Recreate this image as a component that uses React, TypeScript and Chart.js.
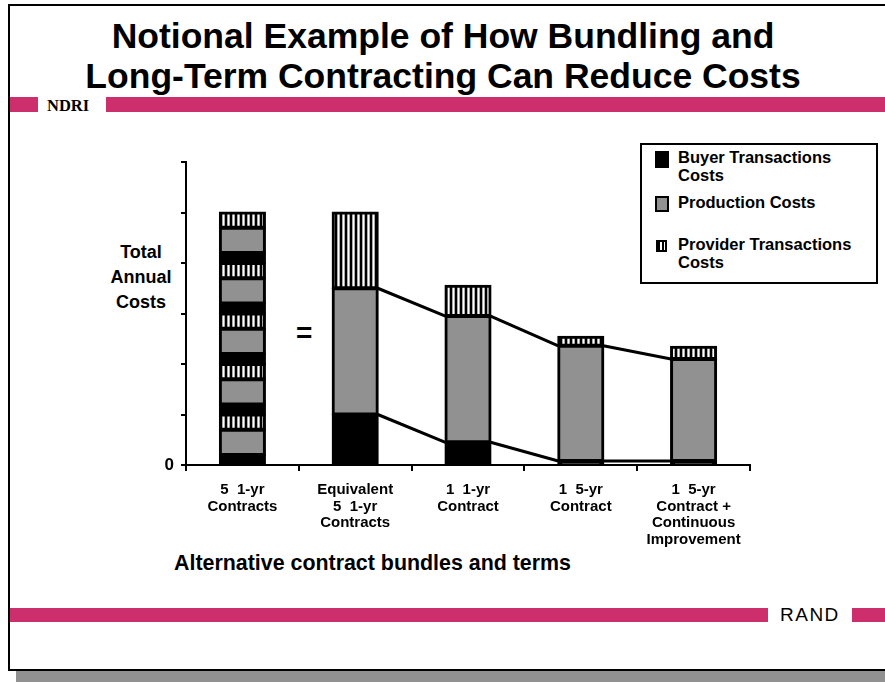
import React, { useEffect, useRef } from 'react';
import { Chart, registerables } from 'chart.js';

Chart.register(...registerables);

// Contract alternatives along the x axis (multi-line tick labels)
const categories: string[][] = [
  ['5  1-yr', 'Contracts'],
  ['Equivalent', '5  1-yr', 'Contracts'],
  ['1  1-yr', 'Contract'],
  ['1  5-yr', 'Contract'],
  ['1  5-yr', 'Contract +', 'Continuous', 'Improvement'],
];

// Cost components per bar (first bar: one 1-yr contract, repeated)
const buyerCosts = [0.2, 1.0, 0.45, 0.08, 0.08];
const productionCosts = [0.5, 2.5, 2.5, 2.28, 2.02];
const providerCosts = [0.3, 1.5, 0.6, 0.18, 0.24];
const contractsInFirstBar = 5;

const seriesNames = ['Buyer Transactions Costs', 'Production Costs', 'Provider Transactions Costs'];
const legendLines: string[][] = [
  ['Buyer Transactions', 'Costs'],
  ['Production Costs'],
  ['Provider Transactions', 'Costs'],
];

const yMin = 0;
const yMax = 6;
const yStep = 1;

const FONT = '"Liberation Sans", Arial, Helvetica, sans-serif';
const PINK = '#CC2F6B';
const GRAY = '#919191';

// Lines joining matching cost levels of neighbouring bars (from the 2nd bar on)
const connectorPlugin = {
  id: 'costConnectors',
  afterDatasetsDraw(chart: any) {
    const ctx = chart.ctx;
    const buyerMeta = chart.getDatasetMeta(0);
    const prodMeta = chart.getDatasetMeta(1);
    ctx.save();
    ctx.strokeStyle = '#000';
    ctx.lineWidth = 3;
    ctx.lineCap = 'butt';
    for (const meta of [buyerMeta, prodMeta]) {
      for (let i = 1; i < categories.length - 1; i++) {
        const a = meta.data[i].getProps(['x', 'y', 'width'], true);
        const b = meta.data[i + 1].getProps(['x', 'y', 'width'], true);
        ctx.beginPath();
        ctx.moveTo(a.x + a.width / 2, a.y);
        ctx.lineTo(b.x - b.width / 2, b.y);
        ctx.stroke();
      }
    }
    ctx.restore();
  },
};

function makeStripes(): CanvasPattern | string {
  const tile = document.createElement('canvas');
  tile.width = 5;
  tile.height = 4;
  const t = tile.getContext('2d');
  if (!t) return '#fff';
  t.fillStyle = '#fff';
  t.fillRect(0, 0, 5, 4);
  t.fillStyle = '#000';
  t.fillRect(0, 0, 2, 4);
  t.fillStyle = '#aaa';
  t.fillRect(2, 0, 1, 4);
  t.fillRect(4, 0, 1, 4);
  return t.createPattern(tile, 'repeat') || '#fff';
}

export default function App() {
  const canvasRef = useRef<HTMLCanvasElement | null>(null);

  useEffect(() => {
    const canvas = canvasRef.current;
    if (!canvas) return;
    const stripes = makeStripes();
    const fills = ['#000', GRAY, stripes];
    const series = [buyerCosts, productionCosts, providerCosts];

    const datasets: any[] = [];
    for (let k = 0; k < contractsInFirstBar; k++) {
      series.forEach((values, s) => {
        datasets.push({
          label: seriesNames[s],
          data: k === 0 ? values : values.map((v, i) => (i === 0 ? v : null)),
          backgroundColor: fills[s],
          borderColor: '#000',
          borderWidth: 3,
          borderSkipped: false,
          inflateAmount: 1,
          categoryPercentage: 1,
          barPercentage: 0.40,
        });
      });
    }

    const chart = new Chart(canvas, {
      type: 'bar',
      data: { labels: categories, datasets },
      options: {
        animation: false,
        responsive: false,
        devicePixelRatio: 1,
        events: [],
        layout: { padding: { left: 100, right: 135, top: 162, bottom: 117 } },
        plugins: { legend: { display: false }, tooltip: { enabled: false }, title: { display: false } },
        scales: {
          x: {
            stacked: true,
            grid: { drawOnChartArea: false, drawTicks: true, tickLength: 6, color: '#000', lineWidth: 2 },
            border: { display: true, color: '#000', width: 2 },
            ticks: {
              color: '#000',
              padding: 11,
              maxRotation: 0,
              autoSkip: false,
              font: { family: FONT, weight: 'bold', size: 15, lineHeight: 1.1 },
            },
            afterFit: (scale: any) => {
              scale.height = 100;
            },
          },
          y: {
            stacked: true,
            min: yMin,
            max: yMax,
            grid: { drawOnChartArea: false, drawTicks: true, tickLength: 5, color: '#000', lineWidth: 2 },
            border: { display: true, color: '#000', width: 2 },
            ticks: {
              stepSize: yStep,
              color: '#000',
              padding: 7,
              font: { family: FONT, weight: 'bold', size: 17 },
              callback: (v: any) => (Number(v) === 0 ? '0' : ''),
            },
            afterFit: (scale: any) => {
              scale.width = 86;
            },
          },
        },
      },
      plugins: [connectorPlugin],
    });
    return () => chart.destroy();
  }, []);

  const abs = (s: React.CSSProperties): React.CSSProperties => ({ position: 'absolute', ...s });
  const swatchBase: React.CSSProperties = { position: 'absolute', boxSizing: 'border-box' };

  return (
    <div style={abs({ left: 0, top: 0, width: 885, height: 682, overflow: 'hidden', background: '#fff', fontFamily: FONT })}>
      {/* slide frame with drop shadow */}
      <div style={abs({ left: 16, top: 671, width: 880, height: 12, background: GRAY })} />
      <div style={abs({ left: 8, top: 4, width: 900, height: 667, border: '2px solid #000', boxSizing: 'border-box' })} />

      {/* title */}
      <div
        style={abs({
          left: 0,
          top: 16,
          width: 886,
          textAlign: 'center',
          fontWeight: 'bold',
          fontSize: 35.5,
          lineHeight: '40px',
          color: '#000',
        })}
      >
        <div>Notional Example of How Bundling and</div>
        <div>Long-Term Contracting Can Reduce Costs</div>
      </div>

      {/* header rule */}
      <div style={abs({ left: 10, top: 97, width: 28, height: 15, background: PINK })} />
      <div
        style={abs({
          left: 47,
          top: 97,
          height: 16,
          lineHeight: '17px',
          fontFamily: '"Liberation Serif", "Times New Roman", serif',
          fontWeight: 'bold',
          fontSize: 16.5,
          color: '#000',
        })}
      >
        NDRI
      </div>
      <div style={abs({ left: 106, top: 97, width: 790, height: 15, background: PINK })} />

      {/* footer rule */}
      <div style={abs({ left: 10, top: 608, width: 758, height: 14, background: PINK })} />
      <div style={abs({ left: 780, top: 604, height: 22, lineHeight: '22px', fontSize: 19, color: '#000', letterSpacing: 1.5 })}>
        RAND
      </div>
      <div style={abs({ left: 852, top: 608, width: 40, height: 14, background: PINK })} />

      {/* y axis caption */}
      <div
        style={abs({
          left: 95,
          top: 240,
          width: 92,
          textAlign: 'center',
          fontWeight: 'bold',
          fontSize: 18,
          lineHeight: '25px',
          color: '#000',
        })}
      >
        <div>Total</div>
        <div>Annual</div>
        <div>Costs</div>
      </div>

      {/* equality between first and second bars */}
      <div style={abs({ left: 296, top: 316, fontWeight: 'bold', fontSize: 28, lineHeight: '34px', color: '#000' })}>=</div>

      {/* x axis caption */}
      <div style={abs({ left: 174, top: 550, fontWeight: 'bold', fontSize: 21.4, lineHeight: '26px', color: '#000', whiteSpace: 'nowrap' })}>
        Alternative contract bundles and terms
      </div>

      <canvas ref={canvasRef} width={885} height={682} style={abs({ left: 0, top: 0, width: 885, height: 682 })} />

      {/* legend */}
      <div style={abs({ left: 640, top: 143, width: 238, height: 141, border: '2px solid #000', boxSizing: 'border-box', background: '#fff' })} />
      <div style={{ ...swatchBase, left: 655, top: 151, width: 14, height: 17, background: '#000' }} />
      <div style={{ ...swatchBase, left: 655, top: 196, width: 14, height: 16, background: GRAY, border: '2px solid #000' }} />
      <div
        style={{
          ...swatchBase,
          left: 656,
          top: 240,
          width: 11,
          height: 12,
          border: '2px solid #000',
          background: 'repeating-linear-gradient(90deg, #000 0 2px, #fff 2px 4px)',
        }}
      />
      {legendLines.map((lines, i) => (
        <div
          key={seriesNames[i]}
          style={abs({
            left: 678,
            top: [148, 193, 235][i],
            fontWeight: 'bold',
            fontSize: 16.5,
            lineHeight: '18px',
            color: '#000',
            whiteSpace: 'nowrap',
          })}
        >
          {lines.map((l) => (
            <div key={l}>{l}</div>
          ))}
        </div>
      ))}
    </div>
  );
}
